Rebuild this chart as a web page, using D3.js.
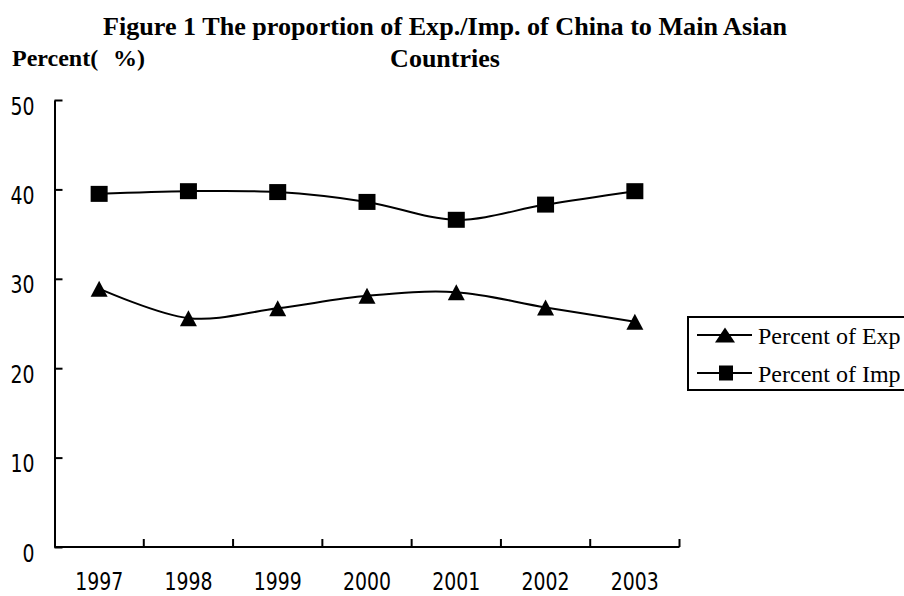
<!DOCTYPE html>
<html>
<head>
<meta charset="utf-8">
<script src="https://cdn.jsdelivr.net/npm/d3@7"></script>
<style>
html,body{margin:0;padding:0;background:#fff;}
svg{display:block;}
</style>
</head>
<body>
<svg id="chart" width="904" height="596"></svg>
<script>
const years = ["1997","1998","1999","2000","2001","2002","2003"];
const expValues = [28.9, 25.6, 26.7, 28.1, 28.5, 26.8, 25.2];
const impValues = [39.5, 39.8, 39.7, 38.6, 36.6, 38.3, 39.8];
const yTicks = [0, 10, 20, 30, 40, 50];
const seriesNames = ["Percent of Exp", "Percent of Imp"];
const titleLines = ["Figure 1 The proportion of Exp./Imp. of China to Main Asian", "Countries"];

const svg = d3.select("#chart");
svg.append("rect").attr("width",904).attr("height",596).attr("fill","#fff");

const x = d3.scaleBand().domain(years).range([54.5, 679.5]).padding(0);
const y = d3.scaleLinear().domain([0, 50]).range([547, 100]);
const cx = d => x(d) + x.bandwidth()/2;

// Title
svg.append("text").attr("x",445).attr("y",35).attr("text-anchor","middle")
  .attr("font-family","'Liberation Serif','Times New Roman',serif").attr("font-weight","bold")
  .attr("font-size",26).attr("textLength",684).attr("lengthAdjust","spacingAndGlyphs")
  .text(titleLines[0]);
svg.append("text").attr("x",445).attr("y",67).attr("text-anchor","middle")
  .attr("font-family","'Liberation Serif','Times New Roman',serif").attr("font-weight","bold")
  .attr("font-size",26).text(titleLines[1]);

// Y axis label
const yl = svg.append("text").attr("y",66)
  .attr("font-family","'Liberation Serif','Times New Roman',serif").attr("font-weight","bold")
  .attr("font-size",24);
yl.append("tspan").attr("x",12).text("Percent(");
yl.append("tspan").attr("x",113).text("%)");

// Y axis
const yAxis = svg.append("g").attr("transform","translate(54.5,0)")
  .call(d3.axisLeft(y).tickValues(yTicks).tickSizeInner(-8).tickSizeOuter(0).tickPadding(20));
yAxis.select(".domain").attr("stroke","#000").attr("stroke-width",2);
yAxis.selectAll(".tick line").attr("stroke","#000").attr("stroke-width",2);
yAxis.selectAll(".tick text")
  .attr("font-family","'DejaVu Sans',sans-serif").attr("font-size",24).attr("fill","#000")
  .attr("dy",0).attr("y",14)
  .attr("textLength",d=>String(d).length*12).attr("lengthAdjust","spacingAndGlyphs");

// X axis
const xAxis = svg.append("g").attr("transform","translate(0,547)")
  .call(d3.axisBottom(x).tickSize(0).tickPadding(0));
xAxis.select(".domain").attr("stroke","#000").attr("stroke-width",2).attr("d","M54.5,0H679.5");
xAxis.selectAll(".tick text")
  .attr("font-family","'DejaVu Sans',sans-serif").attr("font-size",24).attr("fill","#000")
  .attr("dy",0).attr("y",43)
  .attr("textLength",d=>String(d).length*12).attr("lengthAdjust","spacingAndGlyphs");
const bounds = years.map(d => x(d)).concat([x.range()[1]]);
xAxis.selectAll(".btick").data(bounds.slice(1)).enter().append("line")
  .attr("class","btick").attr("x1",d=>d).attr("x2",d=>d).attr("y1",0).attr("y2",-8)
  .attr("stroke","#000").attr("stroke-width",2);

// Lines
const line = d3.line().x((d,i)=>cx(years[i])).y(d=>y(d)).curve(d3.curveCardinal.tension(0));
[expValues, impValues].forEach(vals => {
  svg.append("path").datum(vals).attr("d",line).attr("fill","none")
    .attr("stroke","#000").attr("stroke-width",2);
});

const triPath = (w,h) => `M0,${-h/2}L${w/2},${h/2}L${-w/2},${h/2}Z`;
svg.append("g").selectAll("path").data(expValues).enter().append("path")
  .attr("transform",(d,i)=>`translate(${cx(years[i])},${y(d)})`)
  .attr("d",triPath(17,16)).attr("fill","#000");
svg.append("g").selectAll("rect").data(impValues).enter().append("rect")
  .attr("x",(d,i)=>cx(years[i])-8.5).attr("y",d=>y(d)-8).attr("width",17).attr("height",16)
  .attr("fill","#000");

// Legend
const lg = svg.append("g");
lg.append("rect").attr("x",688).attr("y",317).attr("width",230).attr("height",73)
  .attr("fill","#fff").attr("stroke","#000").attr("stroke-width",2);
const rows = [335, 373];
seriesNames.forEach((name,i) => {
  const ry = rows[i];
  lg.append("line").attr("x1",697).attr("x2",752).attr("y1",ry).attr("y2",ry)
    .attr("stroke","#000").attr("stroke-width",2);
  if (i === 0) {
    lg.append("path").attr("transform",`translate(725,${ry})`).attr("d",triPath(20,15)).attr("fill","#000");
  } else {
    lg.append("rect").attr("x",719).attr("y",ry-7.5).attr("width",14).attr("height",15).attr("fill","#000");
  }
  lg.append("text").attr("x",758).attr("y",ry+8.5)
    .attr("font-family","'Liberation Serif','Times New Roman',serif").attr("font-size",24)
    .attr("fill","#000").text(name);
});
</script>
</body>
</html>
